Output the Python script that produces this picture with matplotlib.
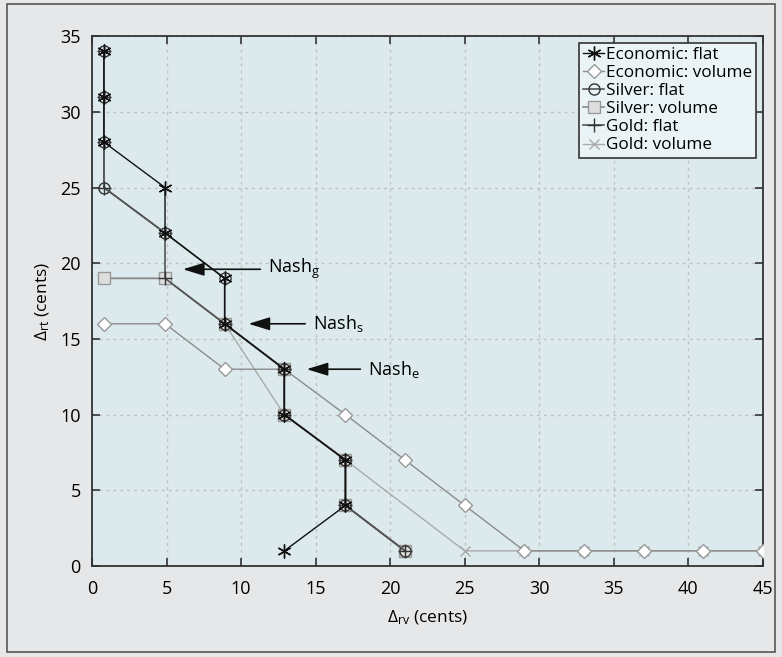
import matplotlib
matplotlib.use("Agg")
import matplotlib.pyplot as plt
from matplotlib.patches import Rectangle

plt.rcParams['font.family'] = ['Open Sans', 'DejaVu Sans']
plt.rcParams['mathtext.fontset'] = 'custom'
plt.rcParams['mathtext.rm'] = 'Open Sans'
plt.rcParams['mathtext.it'] = 'Open Sans'

# Data
rt_levels = [34, 31, 28, 25, 22, 19, 16, 13, 10, 7, 4, 1]

econ_flat_x = [0.8, 0.8, 0.8, 4.9, 4.9, 8.9, 8.9, 12.9, 12.9, 17, 17, 12.9]
econ_flat_y = rt_levels

econ_vol_x = [0.8, 4.9, 8.9, 12.9, 17, 21, 25, 29, 33, 37, 41, 45]
econ_vol_y = [16, 16, 13, 13, 10, 7, 4, 1, 1, 1, 1, 1]

silver_flat_x = [0.8, 0.8, 0.8, 0.8, 4.9, 8.9, 8.9, 12.9, 12.9, 17, 17, 21]
silver_flat_y = rt_levels

silver_vol_x = [0.8, 4.9, 8.9, 12.9, 12.9, 17, 17, 21]
silver_vol_y = [19, 19, 16, 13, 10, 7, 4, 1]

gold_flat_x = [0.8, 0.8, 0.8, 0.8, 4.9, 4.9, 8.9, 12.9, 12.9, 17, 17, 21]
gold_flat_y = rt_levels

gold_vol_x = [0.8, 4.9, 8.9, 12.9, 17, 25, 29, 33, 37, 41, 45]
gold_vol_y = [19, 19, 16, 10, 7, 1, 1, 1, 1, 1, 1]

nash_labels = [r'Nash$_{\rm g}$', r'Nash$_{\rm s}$', r'Nash$_{\rm e}$']
nash_tips = [(6.1, 19.6), (10.5, 16.0), (14.4, 13.0)]
nash_text = [(11.8, 19.6), (14.8, 16.0), (18.5, 13.0)]

fig = plt.figure(figsize=(7.82, 6.57), dpi=100)
fig.patch.set_facecolor('#e6e7e8')
fig.patches.append(Rectangle((0.009, 0.008), 0.982, 0.986, transform=fig.transFigure,
                             fill=False, edgecolor='#555555', lw=1.2))
ax = fig.add_axes([0.1176, 0.1385, 0.858, 0.8065])
ax.set_facecolor('#dceaed')

ax.plot(gold_vol_x, gold_vol_y, color='#aaaaaa', lw=1, marker='x', ms=7,
        mec='#aaaaaa', label='Gold: volume', zorder=2)
ax.plot(econ_vol_x, econ_vol_y, color='#8c8c8c', lw=1, marker='D', ms=7,
        mfc='white', mec='#999999', mew=1, label='Economic: volume', zorder=3)
ax.plot(silver_vol_x, silver_vol_y, color='#888888', lw=1.2, marker='s', ms=8,
        mfc='#dedede', mec='#999999', label='Silver: volume', zorder=3)
ax.plot(silver_flat_x, silver_flat_y, color='#555555', lw=1.2, marker='o', ms=8,
        mfc='none', mec='#333333', label='Silver: flat', zorder=4)
ax.plot(gold_flat_x, gold_flat_y, color='#555555', lw=1.2, marker='+', ms=10,
        mec='#333333', label='Gold: flat', zorder=4)
ax.plot(econ_flat_x, econ_flat_y, color='#111111', lw=1, marker=(6, 2, 0), ms=10,
        mec='#111111', mew=1, label='Economic: flat', zorder=5)

for lab, tip, txt in zip(nash_labels, nash_tips, nash_text):
    ax.annotate('', xy=tip, xytext=(txt[0] - 0.5, txt[1]),
                arrowprops=dict(arrowstyle='-|>,head_length=0.65,head_width=0.2',
                                color='#111111', lw=1.2,
                                mutation_scale=20, shrinkA=0, shrinkB=0), zorder=6)
    ax.text(txt[0], txt[1], lab, fontsize=13, va='center', ha='left', zorder=6)

ax.set_xlim(0, 45)
ax.set_ylim(0, 35)
ax.set_xticks(range(0, 46, 5))
ax.set_yticks(range(0, 36, 5))
ax.tick_params(direction='in', top=True, right=True, labelsize=13, length=6,
               width=1.2, color='#333333')
ax.tick_params(axis='x', pad=10)
ax.tick_params(axis='y', pad=8)
ax.grid(True, ls=(0, (2, 3)), color='#bfbfbf', lw=1)
for s in ax.spines.values():
    s.set_color('#333333')
    s.set_linewidth(1.3)

ax.set_xlabel(r'$\Delta_{\rm rv}$ (cents)', fontsize=12.5, labelpad=8)
ax.set_ylabel(r'$\Delta_{\rm rt}$ (cents)', fontsize=12.5, labelpad=6)

handles, labels = ax.get_legend_handles_labels()
order = ['Economic: flat', 'Economic: volume', 'Silver: flat', 'Silver: volume',
         'Gold: flat', 'Gold: volume']
hmap = dict(zip(labels, handles))
leg = ax.legend([hmap[o] for o in order], order, loc='upper right', fontsize=12.3,
                fancybox=False, framealpha=1, facecolor='#eaf4f6', edgecolor='#333333',
                handlelength=1.2, handletextpad=0.1, borderpad=0.25, labelspacing=0.12,
                borderaxespad=0.4)
leg.get_frame().set_linewidth(1.2)

fig.savefig('out.png', dpi=100, facecolor=fig.get_facecolor())
